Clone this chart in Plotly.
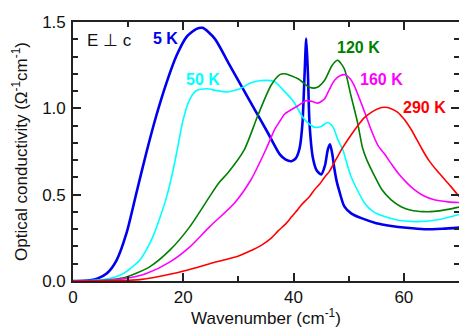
import plotly.graph_objects as go

# ---- data ----
x_5K = [0, 2, 3.1, 4.5, 6.1, 7.9, 9.7, 11.5, 13.3, 15.1, 17.0, 18.8, 20.6, 22.4, 23.5, 25.7,
        28.1, 30.5, 32.9, 35.3, 37.5, 38.5, 39.6, 40.4, 41.1, 41.6, 42.0, 42.3, 42.6, 42.9, 43.5,
        44.2, 45.0, 45.7, 46.2, 46.6, 47.0, 47.4, 47.8, 48.3, 49.2, 50.5, 52.3, 55, 57.7, 60.5,
        63.7, 67, 70]
y_5K = [0, 0.001, 0.004, 0.015, 0.043, 0.12, 0.277, 0.51, 0.743, 0.957, 1.152, 1.307, 1.414,
        1.46, 1.466, 1.404, 1.268, 1.132, 0.996, 0.86, 0.733, 0.705, 0.694, 0.71, 0.77,
        0.908, 1.2, 1.404, 1.2, 0.908, 0.714, 0.64, 0.617, 0.67, 0.76, 0.792, 0.74, 0.65, 0.58,
        0.52, 0.432, 0.39, 0.364, 0.335, 0.319, 0.308, 0.300, 0.303, 0.309]

x_50K = [0, 3, 5.5, 7.5, 9.1, 10.5, 12.1, 13.3, 14.5, 15.8, 17.0, 18.0, 18.8, 20.0, 21.2, 22.4,
         24.2, 26, 28, 30, 32.3, 34.2, 36.5, 38, 39.9, 41.7, 43.0, 44.0, 45.0, 46.2, 47.2, 48.0,
         48.9, 50.4, 52.9, 54.5, 56.5, 59, 62.5, 66.7, 70]
y_50K = [0, 0.002, 0.008, 0.022, 0.043, 0.075, 0.12, 0.18, 0.257, 0.37, 0.49, 0.62, 0.743,
         0.938, 1.054, 1.103, 1.113, 1.103, 1.095, 1.11, 1.148, 1.161, 1.155, 1.11, 1.044,
         0.947, 0.905, 0.889, 0.895, 0.918, 0.89, 0.82, 0.763, 0.607, 0.45, 0.4, 0.373, 0.352,
         0.344, 0.358, 0.385]

x_120K = [0, 4, 7, 9.7, 13.9, 17.6, 21.2, 24.8, 26.5, 28.1, 31.1, 33.5, 35.9, 37.5, 38.4, 40.8,
          42.9, 44.2, 45.6, 47.0, 48.0, 49.2, 50.4, 51.6, 52.5, 53.3, 54.7, 56, 57.7, 59.5,
          61.3, 63.5, 65.5, 68, 70]
y_120K = [0, 0.001, 0.008, 0.023, 0.082, 0.18, 0.315, 0.49, 0.57, 0.627, 0.763, 0.957, 1.132,
          1.195, 1.2, 1.171, 1.122, 1.12, 1.161, 1.25, 1.278, 1.229, 1.074, 0.918, 0.772, 0.7,
          0.607, 0.53, 0.47, 0.43, 0.41, 0.402, 0.403, 0.415, 0.428]

x_160K = [0, 5, 8, 10.5, 13.3, 17.6, 21.2, 24.8, 29.3, 32.3, 35.0, 36.6, 37.5, 38.4, 40.8, 42.3,
          43.4, 44.4, 45.6, 46.5, 47.4, 48.5, 49.4, 50.3, 51.0, 52.9, 54, 55.3, 56.5, 57.7, 58.9,
          60.5, 61.9, 63.5, 65.5, 68, 70]
y_160K = [0, 0.002, 0.008, 0.02, 0.043, 0.111, 0.198, 0.315, 0.452, 0.588, 0.763, 0.88, 0.925,
          0.967, 1.015, 1.044, 1.04, 1.03, 1.054, 1.11, 1.161, 1.19, 1.194, 1.17, 1.132, 0.977,
          0.88, 0.785, 0.735, 0.68, 0.627, 0.57, 0.529, 0.495, 0.47, 0.458, 0.455]

x_290K = [0, 6, 12.1, 18.2, 22.1, 24.8, 29.9, 32, 34.2, 36, 37.2, 38.7, 39.6, 40.8, 41.4, 42.9,
          43.8, 44.7, 45.6, 46.5, 47.7, 48.9, 50.3, 51.6, 52.8, 54.1, 55.3, 56.5, 57.7, 58.9,
          60.1, 61.3, 63.3, 64.5, 66.1, 68.5, 70]
y_290K = [0, 0.001, 0.008, 0.043, 0.075, 0.1, 0.144, 0.172, 0.208, 0.25, 0.29, 0.335,
          0.37, 0.415, 0.44, 0.49, 0.529, 0.56, 0.60, 0.635, 0.704, 0.772, 0.84, 0.898, 0.945,
          0.977, 0.998, 1.006, 0.998, 0.977, 0.935, 0.879, 0.763, 0.70, 0.635, 0.548, 0.49]

x_ticks = [0, 20, 40, 60]
y_ticks = [0.0, 0.5, 1.0, 1.5]
y_tick_labels = ["0.0", "0.5", "1.0", "1.5"]

series = [
    ("5 K", x_5K, y_5K, "#0000ee", 2.6),
    ("50 K", x_50K, y_50K, "#00ffff", 1.6),
    ("120 K", x_120K, y_120K, "#008000", 1.6),
    ("160 K", x_160K, y_160K, "#ff00ff", 1.6),
    ("290 K", x_290K, y_290K, "#ff0000", 1.6),
]

FONT = "Arial, Liberation Sans, sans-serif"

fig = go.Figure()
for name, xs, ys, col, w in series:
    fig.add_trace(go.Scatter(x=xs, y=ys, mode="lines", name=name, hoverinfo="skip",
                             line=dict(color=col, width=w, shape="spline", smoothing=0.7)))

labels = [
    ("5 K", 16.7, 1.404, "#0000ee"),
    ("50 K", 23.6, 1.165, "#00ffff"),
    ("120 K", 51.7, 1.352, "#008000"),
    ("160 K", 56.0, 1.165, "#ff00ff"),
    ("290 K", 63.8, 1.002, "#ff0000"),
]
for txt, lx, ly, col in labels:
    fig.add_annotation(x=lx, y=ly, text=f"<b>{txt}</b>", showarrow=False,
                       font=dict(family=FONT, size=16, color=col))
fig.add_annotation(x=6.7, y=1.393, text="E \u22a5 c", showarrow=False,
                   font=dict(family=FONT, size=17, color="#111111"))

axis_common = dict(showline=True, linecolor="#222222", linewidth=1.6, mirror="allticks",
                   ticks="inside", ticklen=8, tickwidth=1.5, tickcolor="#222222",
                   showgrid=False, zeroline=False, automargin=False,
                   tickfont=dict(family=FONT, size=17, color="#111111"))

fig.update_xaxes(range=[0, 70], tickvals=x_ticks, ticklabelstandoff=0, **axis_common,
                 minor=dict(dtick=10, tick0=0, ticks="inside", ticklen=5, tickwidth=1.5,
                            tickcolor="#222222", showgrid=False),
                 title=dict(text="Wavenumber (cm<sup>-1</sup>)", standoff=13,
                            font=dict(family=FONT, size=17, color="#111111")))
fig.update_yaxes(range=[0, 1.5], tickvals=y_ticks, ticktext=y_tick_labels,
                 ticklabelstandoff=2, **axis_common,
                 minor=dict(dtick=0.1, tick0=0, ticks="inside", ticklen=5, tickwidth=1.5,
                            tickcolor="#222222", showgrid=False),
                 title=dict(text="Optical conductivity (\u03a9<sup>-1</sup>cm<sup>-1</sup>)",
                            standoff=10, font=dict(family=FONT, size=17, color="#111111")))

fig.update_layout(width=459, height=328, showlegend=False, hovermode=False,
                  margin=dict(l=73, r=0, t=22, b=47, pad=0),
                  plot_bgcolor="white", paper_bgcolor="white")

fig.write_html("out.html", config={"displayModeBar": False},
               post_script="document.body.style.margin='0';document.body.style.overflow='hidden';")
